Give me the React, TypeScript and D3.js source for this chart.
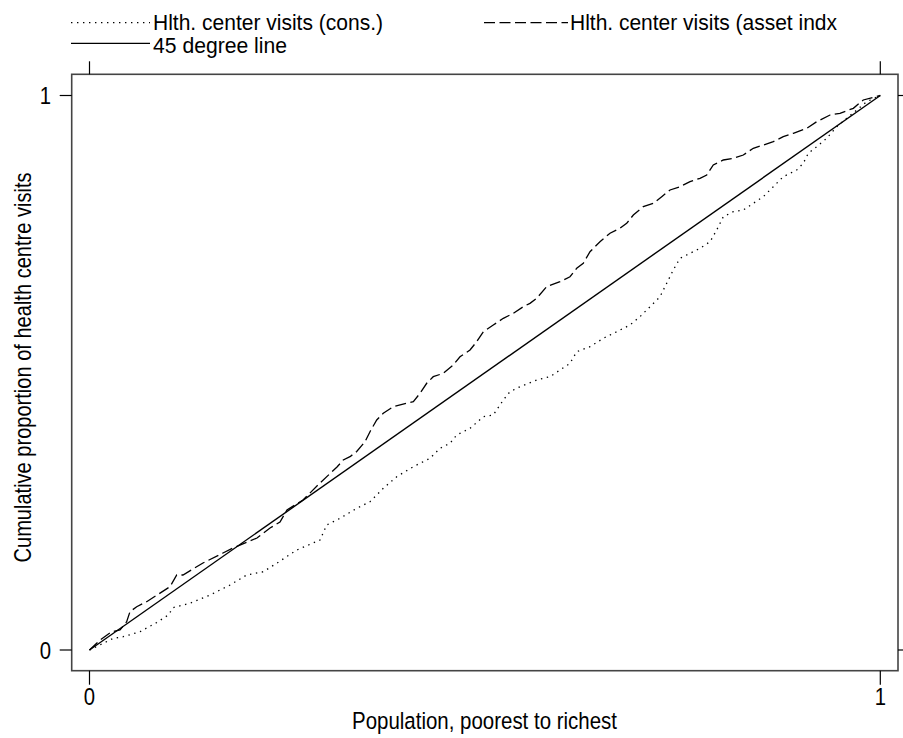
import React from "react";
import * as d3 from "d3";

// Population share (x) and cumulative share of health centre visits (y)
const consX = [0, .0175, .0301, .0427, .0639, .0850, .0996, .1060, .1271, .1524, .1777, .1988, .2198, .2367, .2620, .2915, .2999, .3168, .3379, .3547, .3715, .3885, .4095, .4306, .4432, .4559, .4643, .4812, .4980, .5106, .5233, .5317, .5444, .5655, .5823, .5950, .6076, .6161, .6329, .6497, .6667, .6835, .6961, .7088, .7214, .7299, .7382, .7467, .7594, .7720, .7847, .7931, .8015, .8141, .8268, .8394, .8520, .8647, .8773, .8943, .9026, .9090, .9196, .9322, .9449, .9575, .9702, .9828, 1];
const consY = [0, .0121, .0211, .0240, .0330, .0496, .0631, .0766, .0842, .0992, .1172, .1353, .1412, .1564, .1803, .1984, .2254, .2375, .2555, .2674, .2916, .3125, .3306, .3457, .3637, .3728, .3877, .3998, .4207, .4238, .4509, .4658, .4748, .4869, .4929, .5050, .5170, .5380, .5470, .5621, .5740, .5861, .6011, .6191, .6371, .6613, .6853, .7064, .7154, .7244, .7363, .7574, .7814, .7904, .7935, .8056, .8175, .8355, .8536, .8656, .8777, .8958, .9077, .9228, .9437, .9589, .9738, .9888, 1];

const assetX = [0, .0133, .0281, .0386, .0470, .0512, .0597, .0723, .1018, .1103, .1182, .1435, .1688, .1815, .2118, .2283, .2409, .2497, .2700, .2915, .3130, .3209, .3294, .3379, .3484, .3547, .3632, .3715, .3842, .4011, .4095, .4179, .4264, .4347, .4474, .4600, .4685, .4812, .4896, .4980, .5106, .5233, .5359, .5486, .5570, .5655, .5781, .5950, .6076, .6161, .6244, .6329, .6455, .6582, .6708, .6793, .6877, .7003, .7130, .7236, .7341, .7467, .7594, .7720, .7805, .7888, .8015, .8141, .8268, .8394, .8520, .8647, .8773, .8900, .9069, .9196, .9364, .9490, .9659, .9785, 1];
const assetY = [0, .0180, .0330, .0361, .0510, .0691, .0781, .0871, .1142, .1353, .1353, .1569, .1749, .1840, .2020, .2200, .2308, .2525, .2705, .3012, .3300, .3427, .3486, .3580, .3757, .3937, .4148, .4269, .4388, .4449, .4478, .4629, .4810, .4929, .4990, .5140, .5289, .5410, .5560, .5740, .5861, .5982, .6072, .6191, .6252, .6343, .6552, .6642, .6732, .6884, .6974, .7183, .7363, .7515, .7605, .7695, .7845, .7995, .8056, .8175, .8296, .8355, .8445, .8507, .8566, .8747, .8837, .8867, .8927, .9048, .9107, .9167, .9257, .9318, .9408, .9528, .9648, .9679, .9769, .9919, 1];

const diagX = [0, 1];
const diagY = [0, 1];

const xTicks = [0, 1];
const yTicks = [0, 1];

const legendLabels = ["Hlth. center visits (cons.)", "Hlth. center visits (asset indx", "45 degree line"];
const xTitle = "Population, poorest to richest";
const yTitle = "Cumulative proportion of health centre visits";

const W = 903;
const H = 738;
const FONT = "'Liberation Sans', Arial, sans-serif";

export default function App() {
  const x = d3.scaleLinear().domain([0, 1]).range([89.5, 880.3]);
  const y = d3.scaleLinear().domain([0, 1]).range([650, 95.5]);
  const box = { l: 71.7, r: 898, t: 74.3, b: 670.7 };

  const mk = (xs: number[], ys: number[]) =>
    d3.line<number>().x((_, i) => x(xs[i])).y((_, i) => y(ys[i]))(xs) || "";

  const dotted = "1.4,4.6";
  const dashed = "11,4.5";

  return (
    <svg width={W} height={H} style={{ position: "absolute", left: 0, top: 0, background: "#fff" }}>
      <rect x={0} y={0} width={W} height={H} fill="#fff" />
      {/* legend */}
      <g fontFamily={FONT} fontSize={22} fill="#000">
        <line x1={71} x2={150} y1={22.7} y2={22.7} stroke="#000" strokeWidth={1.3} strokeDasharray={dotted} />
        <text x={153} y={29.5} textLength={230} lengthAdjust="spacingAndGlyphs">{legendLabels[0]}</text>
        <line x1={484} x2={568} y1={22.7} y2={22.7} stroke="#000" strokeWidth={1.3} strokeDasharray={dashed} />
        <text x={570} y={29.5} textLength={267} lengthAdjust="spacingAndGlyphs">{legendLabels[1]}</text>
        <line x1={71} x2={150} y1={43.3} y2={43.3} stroke="#000" strokeWidth={1.3} />
        <text x={153} y={52.5} textLength={134} lengthAdjust="spacingAndGlyphs">{legendLabels[2]}</text>
      </g>
      {/* plot box */}
      <rect x={box.l} y={box.t} width={box.r - box.l} height={box.b - box.t} fill="none" stroke="#444" strokeWidth={1.6} />
      {/* ticks */}
      {xTicks.map((t) => (
        <g key={"x" + t}>
          <line x1={x(t)} x2={x(t)} y1={box.b} y2={box.b + 14} stroke="#000" strokeWidth={1.2} />
          <line x1={x(t)} x2={x(t)} y1={box.t} y2={box.t - 13} stroke="#000" strokeWidth={1.2} />
          <text x={x(t)} y={705} textAnchor="middle" fontFamily={FONT} fontSize={24.5} textLength={11.3} lengthAdjust="spacingAndGlyphs">{t}</text>
        </g>
      ))}
      {yTicks.map((t) => (
        <g key={"y" + t}>
          <line x1={box.l - 12} x2={box.l} y1={y(t)} y2={y(t)} stroke="#000" strokeWidth={1.2} />
          <line x1={box.r} x2={box.r + 12} y1={y(t)} y2={y(t)} stroke="#000" strokeWidth={1.2} />
          <text x={51} y={y(t) + 8.8} textAnchor="end" fontFamily={FONT} fontSize={24.5} textLength={11.3} lengthAdjust="spacingAndGlyphs">{t}</text>
        </g>
      ))}
      {/* axis titles */}
      <text x={484.5} y={729} textAnchor="middle" fontFamily={FONT} fontSize={24.5} textLength={265} lengthAdjust="spacingAndGlyphs">{xTitle}</text>
      <text transform={`translate(30.7,367.5) rotate(-90)`} textAnchor="middle" fontFamily={FONT} fontSize={24.5} textLength={390} lengthAdjust="spacingAndGlyphs">{yTitle}</text>
      {/* curves */}
      <path d={mk(diagX, diagY)} fill="none" stroke="#000" strokeWidth={1.4} />
      <path d={mk(assetX, assetY)} fill="none" stroke="#000" strokeWidth={1.3} strokeDasharray={dashed} />
      <path d={mk(consX, consY)} fill="none" stroke="#000" strokeWidth={1.3} strokeDasharray={dotted} />
    </svg>
  );
}
